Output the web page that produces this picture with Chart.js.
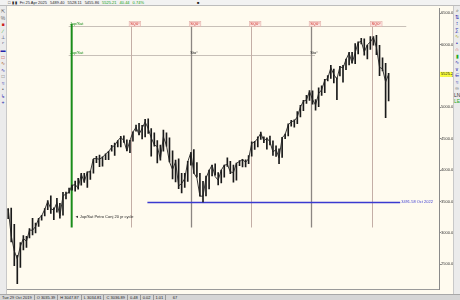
<!DOCTYPE html>
<html>
<head>
<meta charset="utf-8">
<script src="https://cdn.jsdelivr.net/npm/chart.js"></script>
<style>
  html, body { margin: 0; padding: 0; width: 460px; height: 300px; overflow: hidden; background: #fffbef; font-family: "Liberation Sans", Arial, sans-serif; }
  #topbar { position: absolute; left: 0; top: 0; width: 460px; height: 6px; background: #f2f2f2; border-bottom: 1px solid #bdbdbd; box-sizing: border-box; font-size: 4px; line-height: 5px; white-space: nowrap; color: #222; }
  #topbar span { margin-right: 3px; }
  #leftbar { position: absolute; left: 0; top: 6px; width: 7px; height: 288px; background: #ebebeb; border-right: 1px solid #c8c8c8; box-sizing: border-box; font-size: 5px; line-height: 6.5px; text-align: center; padding-top: 2px; }
  #rightbar { position: absolute; left: 453px; top: 6px; width: 7px; height: 288px; background: #ebebeb; border-left: 1px solid #c8c8c8; box-sizing: border-box; font-size: 5px; line-height: 6.5px; text-align: center; padding-top: 1px; }
  #status { position: absolute; left: 0; top: 294px; width: 460px; height: 6px; background: #d6d6d6; border-top: 1px solid #a8a8a8; box-sizing: border-box; font-size: 4px; line-height: 5px; white-space: nowrap; color: #222; }
  #status span { display: inline-block; padding: 0 2px; border-right: 1px solid #999; }
  #wrap { position: absolute; left: 7px; top: 6px; width: 446px; height: 288px; }
</style>
</head>
<body>
<div id="topbar">
  <span style="margin-left:8px">&#9633; &#9646; &#9646;</span><span>Fri 25 Apr 2025</span><span>5489.40</span><span>5528.11</span><span>5455.86</span><span style="color:#0a9a0a">5525.21</span><span style="color:#0a9a0a">40.44</span><span style="color:#0a9a0a">0.74%</span><span style="margin-left:50px">&#9632;</span>
</div>
<div id="leftbar">
  <div style="color:#666">&#8689;</div><div style="color:#666">%</div><div style="color:#c22">&#9632;</div><div style="color:#2a2">&#8725;</div><div style="color:#236">&#8869;</div><div style="color:#236">&#8988;</div><div style="color:#22a">&#9644;</div><div style="color:#c22">&#9633;</div><div style="color:#a52">&#8767;</div><div style="color:#22a">&#8767;</div><div style="color:#666">&#9633;</div><div style="color:#22a">&#8776;</div><div style="color:#666">&#8226;</div><div style="color:#22a">&#8627;</div><div style="color:#22a">+</div>
</div>
<div id="rightbar">
  <div style="color:#333">&#8981;</div><div style="color:#22a">&#8645;</div><div style="color:#22a">&#8597;</div><div style="color:#22a">&#8721;</div><div style="color:#aa2">&#8767;</div><div style="color:#22a">&#8226;</div><div style="color:#c22">&#8745;</div><div style="color:#2a2">&#9646;</div><div style="color:#22a">&#8767;</div><div style="color:#22a">&#8744;</div><div style="color:#22a">&#8712;</div><div style="color:#22a">&#8776;</div><div style="color:#666">&#8734;</div><div style="color:#333">LN</div><div style="color:#2a2">LE</div>
</div>
<div id="wrap"><canvas id="chart" width="446" height="288"></canvas></div>
<div id="status">
  <span>Tue 29 Oct 2019</span><span>O 3035.39</span><span>H 3047.87</span><span>L 3034.81</span><span>C 3036.89</span><span>0.48</span><span>0.02</span><span>1.01</span><span style="border:none">&nbsp;&nbsp;&nbsp;&nbsp;67</span>
</div>
<script>
// half-month periods: a = first half, b = second half
const periods = [
  '2020-02a','2020-02b','2020-03a','2020-03b','2020-04a','2020-04b','2020-05a','2020-05b','2020-06a','2020-06b','2020-07a','2020-07b',
  '2020-08a','2020-08b','2020-09a','2020-09b','2020-10a','2020-10b','2020-11a','2020-11b','2020-12a','2020-12b',
  '2021-01a','2021-01b','2021-02a','2021-02b','2021-03a','2021-03b','2021-04a','2021-04b','2021-05a','2021-05b','2021-06a','2021-06b',
  '2021-07a','2021-07b','2021-08a','2021-08b','2021-09a','2021-09b','2021-10a','2021-10b','2021-11a','2021-11b','2021-12a','2021-12b',
  '2022-01a','2022-01b','2022-02a','2022-02b','2022-03a','2022-03b','2022-04a','2022-04b','2022-05a','2022-05b','2022-06a','2022-06b',
  '2022-07a','2022-07b','2022-08a','2022-08b','2022-09a','2022-09b','2022-10a','2022-10b','2022-11a','2022-11b','2022-12a','2022-12b',
  '2023-01a','2023-01b','2023-02a','2023-02b','2023-03a','2023-03b','2023-04a','2023-04b','2023-05a','2023-05b','2023-06a','2023-06b',
  '2023-07a','2023-07b','2023-08a','2023-08b','2023-09a','2023-09b','2023-10a','2023-10b','2023-11a','2023-11b','2023-12a','2023-12b',
  '2024-01a','2024-01b','2024-02a','2024-02b','2024-03a','2024-03b','2024-04a','2024-04b','2024-05a','2024-05b','2024-06a','2024-06b',
  '2024-07a','2024-07b','2024-08a','2024-08b','2024-09a','2024-09b','2024-10a','2024-10b','2024-11a','2024-11b','2024-12a','2024-12b',
  '2025-01a','2025-01b','2025-02a','2025-02b','2025-03a','2025-03b','2025-04a','2025-04b'
];
const lows = [
  3225, 2855, 2478, 2191, 2447, 2727, 2766, 2920, 2965, 2999, 3101, 3200,
  3270, 3370, 3310, 3209, 3330, 3233, 3280, 3540, 3630, 3680,
  3662, 3694, 3760, 3805, 3723, 3853, 3950, 4118, 4056, 4061, 4167, 4165,
  4300, 4233, 4367, 4367, 4440, 4305, 4278, 4460, 4620, 4560, 4495, 4530,
  4582, 4223, 4380, 4115, 4157, 4300, 4380, 4130, 3859, 3810, 3705, 3636,
  3722, 3818, 4080, 3945, 3885, 3584, 3491, 3590, 3700, 3906, 3918, 3764,
  3794, 3885, 4060, 3943, 3809, 3838, 4069, 4049, 4050, 4100, 4220, 4328,
  4370, 4490, 4438, 4335, 4402, 4235, 4216, 4103, 4200, 4500, 4546, 4700,
  4682, 4740, 4845, 4946, 5060, 5110, 5050, 4953, 5011, 5191, 5234, 5420,
  5460, 5390, 5120, 5500, 5402, 5600, 5674, 5705, 5696, 5850, 6010, 5832,
  5773, 5923, 5990, 5837, 5504, 5580, 4835, 5100
];
const highs = [
  3385, 3393, 3136, 2641, 2844, 2955, 2945, 3068, 3233, 3155, 3233, 3280,
  3388, 3514, 3588, 3400, 3550, 3470, 3645, 3650, 3712, 3760,
  3826, 3870, 3950, 3950, 3970, 3983, 4173, 4218, 4238, 4210, 4257, 4300,
  4393, 4429, 4470, 4537, 4546, 4480, 4475, 4608, 4718, 4744, 4712, 4808,
  4818, 4660, 4595, 4470, 4400, 4637, 4595, 4512, 4307, 4160, 4180, 3950,
  3950, 4140, 4280, 4325, 4120, 3950, 3820, 3905, 4000, 4080, 4100, 3960,
  4000, 4080, 4195, 4140, 4078, 4110, 4150, 4170, 4165, 4230, 4448, 4458,
  4528, 4607, 4530, 4512, 4541, 4465, 4385, 4340, 4520, 4575, 4738, 4793,
  4802, 4932, 5030, 5111, 5190, 5265, 5263, 5125, 5312, 5342, 5447, 5505,
  5670, 5610, 5470, 5651, 5670, 5768, 5875, 5878, 6017, 6045, 6100, 6090,
  5990, 6128, 6128, 6147, 5986, 5787, 5700, 5540
];
const closes = [
  3380, 2954, 2711, 2585, 2783, 2912, 2864, 3044, 3041, 3100, 3226, 3271,
  3373, 3500, 3383, 3363, 3483, 3270, 3585, 3622, 3647, 3756,
  3768, 3714, 3934, 3811, 3969, 3973, 4185, 4181, 4173, 4204, 4255, 4297,
  4360, 4395, 4468, 4522, 4468, 4307, 4471, 4605, 4682, 4567, 4668, 4766,
  4662, 4515, 4401, 4374, 4173, 4530, 4392, 4131, 4008, 4132, 3750, 3785,
  3863, 4130, 4280, 3955, 3873, 3586, 3583, 3872, 3992, 4080, 3895, 3840,
  3999, 4077, 4090, 3970, 3960, 4109, 4137, 4169, 4124, 4180, 4425, 4450,
  4505, 4589, 4464, 4508, 4450, 4288, 4327, 4194, 4514, 4568, 4719, 4770,
  4784, 4846, 5005, 5096, 5117, 5254, 5123, 5036, 5222, 5278, 5432, 5460,
  5631, 5522, 5449, 5648, 5626, 5762, 5864, 5705, 5871, 6032, 6051, 5882,
  5997, 6041, 6115, 5955, 5639, 5612, 5405, 5525
];

const yTicks = [2500, 3000, 3500, 4000, 4500, 5000, 5500, 6000, 6500];
const monthNames = ['Jan', 'Feb', 'Mar', 'Apr', 'May', 'Jun', 'Jul', 'Aug', 'Sep', 'Oct', 'Nov', 'Dec'];
const firstMonth = '2020-03';
const lastMonth = '2025-07';

const lastPrice = 5525.21;

// astro cycle markers
const conjDate = '2020-12-21';
const conjLabel = 'Jup/Sat Petro Conj 20 yr cycle';
const cycleDates = ['2021-10-14', '2022-08-10', '2023-06-06', '2024-04-01', '2025-02-03'];
const cycleLabels = ['SQ0°', 'SQ0°', 'SQ0°', 'SQ0°', 'SQ0°'];
const midLabels = ['', 'Sto°', '', 'Sto°', ''];
const lineTopPrice = 6290;
const midLinePrice = 5830;
const lineBottomPrice = 3085;
const topLineEnd = '2025-07-20';
const midLineEnd = '2024-04-20';

// Oct 2022 low support
const supportPrice = 3491.58;
const supportStart = '2022-01-04';
const supportEnd = '2025-06-20';
const supportLabel = '3491.58 Oct 2022';

function toYear(s) {
  const half = s.length === 8 ? s[7] : null;
  const yy = +s.slice(0, 4), mm = +s.slice(5, 7);
  const dd = half ? (half === 'a' ? 8 : 23) : +s.slice(8, 10);
  return yy + (mm - 1) / 12 + (dd - 1) / 365;
}

const monthTicks = [];
{
  let yy = +firstMonth.slice(0, 4), mm = +firstMonth.slice(5, 7);
  const endY = +lastMonth.slice(0, 4), endM = +lastMonth.slice(5, 7);
  while (yy < endY || (yy === endY && mm <= endM)) {
    monthTicks.push({ value: yy + (mm - 1) / 12, label: mm === 1 ? "'" + String(yy).slice(2) : monthNames[mm - 1] });
    mm++;
    if (mm > 12) { mm = 1; yy++; }
  }
}

const FONT = '"Liberation Sans", Arial, sans-serif';

const markers = {
  id: 'markers',
  beforeDatasetsDraw(chart) {
    const { ctx, scales: { x, y } } = chart;
    ctx.save();
    // horizontal label rails
    ctx.strokeStyle = '#c8c0b8';
    ctx.lineWidth = 1;
    ctx.beginPath();
    ctx.moveTo(x.getPixelForValue(toYear(conjDate)) - 3, Math.round(y.getPixelForValue(lineTopPrice)) + 0.5);
    ctx.lineTo(x.getPixelForValue(toYear(topLineEnd)), Math.round(y.getPixelForValue(lineTopPrice)) + 0.5);
    ctx.moveTo(x.getPixelForValue(toYear(conjDate)) - 3, Math.round(y.getPixelForValue(midLinePrice)) + 0.5);
    ctx.lineTo(x.getPixelForValue(toYear(midLineEnd)), Math.round(y.getPixelForValue(midLinePrice)) + 0.5);
    ctx.stroke();

    // cycle verticals
    cycleDates.forEach((d, i) => {
      const px = Math.round(x.getPixelForValue(toYear(d))) + 0.5;
      ctx.strokeStyle = midLabels[i] ? '#8c8682' : '#c4aea6';
      ctx.lineWidth = midLabels[i] ? 1.3 : 1;
      ctx.beginPath();
      ctx.moveTo(px, y.getPixelForValue(lineTopPrice));
      ctx.lineTo(px, y.getPixelForValue(lineBottomPrice));
      ctx.stroke();
    });

    // green conjunction line
    const gx = x.getPixelForValue(toYear(conjDate));
    ctx.strokeStyle = '#1a8c1a';
    ctx.lineWidth = 2;
    ctx.beginPath();
    ctx.moveTo(gx, y.getPixelForValue(lineTopPrice + 40));
    ctx.lineTo(gx, y.getPixelForValue(lineBottomPrice));
    ctx.stroke();

    // support line
    const sy = Math.round(y.getPixelForValue(supportPrice)) + 0.5;
    ctx.strokeStyle = '#3a3ad0';
    ctx.lineWidth = 1.6;
    ctx.beginPath();
    ctx.moveTo(x.getPixelForValue(toYear(supportStart)), sy);
    ctx.lineTo(x.getPixelForValue(toYear(supportEnd)), sy);
    ctx.stroke();
    ctx.restore();
  },
  afterDatasetsDraw(chart) {
    const { ctx, scales: { x, y } } = chart;
    ctx.save();
    ctx.font = '4px ' + FONT;
    ctx.textBaseline = 'bottom';
    const topY = y.getPixelForValue(lineTopPrice);
    const midY = y.getPixelForValue(midLinePrice);

    cycleDates.forEach((d, i) => {
      const px = x.getPixelForValue(toYear(d));
      const w = ctx.measureText(cycleLabels[i]).width + 2;
      ctx.fillStyle = '#fbe3e0';
      ctx.fillRect(px - 2, topY - 5, w, 5);
      ctx.strokeStyle = '#e0a8a0';
      ctx.lineWidth = 0.5;
      ctx.strokeRect(px - 2, topY - 5, w, 5);
      ctx.fillStyle = '#d02a20';
      ctx.fillText(cycleLabels[i], px - 1, topY);
      if (midLabels[i]) {
        ctx.fillStyle = '#222';
        ctx.fillText(midLabels[i], px - 1, midY - 0.5);
      }
    });

    const gx = x.getPixelForValue(toYear(conjDate));
    ctx.fillStyle = '#1a8c1a';
    ctx.fillText('Jup/Sat', gx - 2, topY);
    ctx.fillText('Jup/Sat', gx - 2, midY);

    ctx.fillStyle = '#222';
    ctx.textBaseline = 'middle';
    const ly = y.getPixelForValue(lineBottomPrice + 170);
    ctx.fillText('\u25C4 ' + conjLabel, gx + 3, ly);

    ctx.fillStyle = '#3a3ad0';
    ctx.fillText(supportLabel, x.getPixelForValue(toYear(supportEnd)) + 1, y.getPixelForValue(supportPrice));
    ctx.restore();
  },
  afterDraw(chart) {
    const { ctx, scales: { y } } = chart;
    ctx.save();
    const py = y.getPixelForValue(lastPrice);
    ctx.fillStyle = '#fbff3a';
    ctx.fillRect(y.left + 1, py - 2.5, 12, 5);
    ctx.fillStyle = '#222';
    ctx.font = '4px ' + FONT;
    ctx.textBaseline = 'middle';
    ctx.fillText(lastPrice.toFixed(2), y.left + 2, py);
    ctx.restore();
  }
};

new Chart(document.getElementById('chart'), {
  type: 'bar',
  data: {
    datasets: [{
      type: 'line',
      label: 'Close',
      data: periods.map((p, i) => ({ x: toYear(p), y: closes[i] })),
      borderColor: '#222',
      borderWidth: 0.9,
      pointRadius: 0,
      tension: 0
    }, {
      label: 'S&P 500',
      data: periods.map((p, i) => ({ x: toYear(p), y: [lows[i], highs[i]] })),
      backgroundColor: '#1a1a1a',
      borderWidth: 0,
      barThickness: 1,
      grouped: false
    }]
  },
  options: {
    responsive: false,
    animation: false,
    devicePixelRatio: 1,
    layout: { padding: 0 },
    plugins: { legend: { display: false }, tooltip: { enabled: false } },
    scales: {
      x: {
        type: 'linear',
        min: 2020.086,
        max: 2026.0,
        offset: false,
        grid: { display: false },
        border: { display: true, color: '#9a9a9a' },
        afterBuildTicks: s => { s.ticks = monthTicks.map(t => ({ value: t.value })); },
        afterFit: s => { s.height = 5; },
        ticks: {
          autoSkip: false,
          maxRotation: 0,
          padding: 0,
          color: '#333',
          font: { size: 4, family: FONT },
          callback: (v, i) => monthTicks[i] ? monthTicks[i].label : ''
        }
      },
      y: {
        position: 'right',
        min: 2105,
        max: 6576,
        afterBuildTicks: s => { s.ticks = yTicks.map(v => ({ value: v })); },
        afterFit: s => { s.width = 14; },
        grid: { drawOnChartArea: false, tickLength: 2, color: '#8a8a8a' },
        border: { display: true, color: '#8a8a8a' },
        ticks: {
          padding: 0,
          color: '#333',
          font: { size: 4, family: FONT },
          callback: v => v.toFixed(2)
        }
      }
    }
  },
  plugins: [markers]
});
</script>
</body>
</html>
